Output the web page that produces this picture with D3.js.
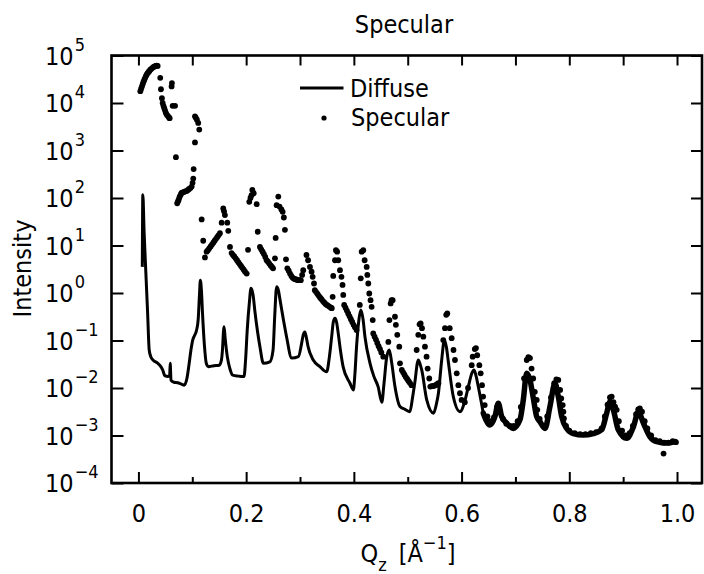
<!DOCTYPE html>
<html>
<head>
<meta charset="utf-8">
<script src="https://cdn.jsdelivr.net/npm/d3@7"></script>
<style>
  html, body { margin: 0; padding: 0; background: #fff; }
  svg { display: block; }
  text { font-family: "DejaVu Sans Condensed", "DejaVu Sans", sans-serif; fill: #000; }
</style>
</head>
<body>
<svg id="chart" width="704" height="574"></svg>
<script>
// ---------------- DATA ----------------
const chartTitle = "Specular";
const xTickValues = [0, 0.2, 0.4, 0.6, 0.8, 1.0];
const xTickLabels = ["0", "0.2", "0.4", "0.6", "0.8", "1.0"];
const xMinorTicks = [0.1, 0.3, 0.5, 0.7, 0.9];
const yTickExponents = [-4, -3, -2, -1, 0, 1, 2, 3, 4, 5];
const seriesNames = ["Diffuse", "Specular"];

// Diffuse scan: Qz and log10(Intensity)
const diffuseQ = [0.0072,0.0082,0.0105,0.0135,0.017,0.020,0.023,0.028,0.035,0.041,0.045,0.049,0.055,0.058,0.059,0.0605,0.066,0.073,0.080,0.085,0.090,0.094,0.0975,0.101,0.104,0.108,0.111,0.1135,0.115,0.117,0.119,0.1225,0.126,0.130,0.140,0.150,0.154,0.156,0.158,0.159,0.161,0.165,0.170,0.175,0.186,0.196,0.199,0.202,0.206,0.209,0.213,0.216,0.221,0.2256,0.232,0.244,0.250,0.253,0.2566,0.260,0.263,0.269,0.275,0.2845,0.297,0.303,0.306,0.309,0.312,0.315,0.3246,0.337,0.3495,0.3545,0.3588,0.362,0.365,0.368,0.371,0.375,0.380,0.3928,0.399,0.402,0.405,0.409,0.413,0.417,0.4206,0.430,0.437,0.445,0.452,0.456,0.461,0.4657,0.470,0.4763,0.4856,0.495,0.504,0.509,0.513,0.5196,0.523,0.526,0.5353,0.548,0.553,0.557,0.5631,0.568,0.572,0.575,0.5846,0.597,0.6066,0.613,0.619,0.623,0.627,0.631,0.6403,0.6527,0.662,0.6682,0.6744,0.6837,0.696,0.7084,0.7146,0.7208,0.727,0.733,0.7394,0.7456,0.7549,0.7641,0.7734,0.7796,0.7858,0.795,0.8074,0.826,0.8446,0.8601,0.8694,0.8756,0.8818,0.891,0.9066,0.919,0.9283,0.9376,0.9499,0.9623,0.981,0.9963];
const diffuseLogI = [0.55,2.07,1.3,0.5,-0.4,-1.2,-1.34,-1.42,-1.47,-1.54,-1.62,-1.74,-1.76,-1.74,-1.48,-1.84,-1.88,-1.89,-1.92,-1.94,-1.8,-1.5,-1.2,-0.98,-0.9,-0.78,-0.55,0.0,0.27,0.05,-0.43,-1.1,-1.48,-1.55,-1.53,-1.52,-1.42,-1.2,-0.8,-0.71,-0.95,-1.34,-1.6,-1.73,-1.75,-1.76,-1.4,-0.78,-0.2,0.10,-0.05,-0.36,-0.8,-1.13,-1.48,-1.45,-1.2,-0.5,0.13,0.05,-0.15,-0.55,-0.92,-1.37,-1.34,-1.06,-0.88,-0.82,-0.95,-1.13,-1.41,-1.55,-1.66,-1.35,-0.92,-0.6,-0.53,-0.62,-0.85,-1.2,-1.55,-1.9,-2.04,-1.7,-1.13,-0.6,-0.36,-0.55,-0.92,-1.48,-1.75,-1.97,-2.3,-1.9,-1.35,-1.2,-1.45,-1.97,-2.39,-2.45,-2.5,-2.2,-1.9,-1.41,-1.5,-1.62,-2.25,-2.53,-2.35,-2.11,-1.41,-0.99,-1.15,-1.41,-2.18,-2.5,-2.25,-1.95,-1.69,-1.62,-1.75,-1.97,-2.53,-2.78,-2.6,-2.32,-2.6,-2.74,-2.85,-2.67,-2.25,-1.69,-1.83,-2.2,-2.6,-2.71,-2.85,-2.39,-1.9,-2.18,-2.6,-2.85,-2.96,-2.99,-2.96,-2.88,-2.53,-2.29,-2.46,-2.88,-3.06,-2.82,-2.5,-2.74,-3.03,-3.13,-3.16,-3.13];

// Specular scan: Qz and log10(Intensity)
const specularQ = [0.0035,0.005,0.0065,0.008,0.0095,0.011,0.0125,0.014,0.0155,0.017,0.0185,0.020,0.022,0.024,0.026,0.028,0.030,0.032,0.034,0.0357,
0.0405,0.0418,0.0436,0.045,0.0465,0.048,0.0495,0.051,0.053,0.0553,0.057,0.058,
0.0616,0.0622,0.0635,0.068,0.0696,
0.072,0.0735,0.0746,0.076,0.077,0.079,0.080,0.0825,0.085,0.087,0.0895,0.092,0.094,0.0965,0.0988,0.1005,0.1018,0.1025,0.105,0.105,0.1065,0.1086,0.111,0.113,
0.1174,0.1203,0.1235,
0.1266,0.129,0.1315,0.134,0.1365,0.139,0.1415,0.144,0.1465,0.149,0.1513,
0.1545,0.1575,0.159,0.1606,0.165,0.1668,0.170,
0.173,0.1755,0.178,0.1805,0.183,0.1855,0.188,0.1905,0.193,0.1955,0.198,0.201,
0.2035,0.2058,0.208,0.210,0.2115,0.214,0.2195,0.2215,
0.2256,0.228,0.2305,0.233,0.2355,0.238,0.2405,0.243,0.2455,0.248,0.250,
0.2535,0.2548,0.2566,0.2597,0.262,0.2655,0.2678,0.270,0.272,0.274,
0.2765,0.279,0.2815,0.284,0.2865,0.289,0.2915,0.294,0.2965,0.299,0.3015,0.304,0.306,
0.312,0.315,0.3185,0.3215,0.3235,0.326,
0.3275,0.330,0.3325,0.335,0.3375,0.340,0.3425,0.345,0.3475,0.350,0.3525,0.355,0.3575,0.359,
0.3606,0.3617,0.365,0.3667,0.369,0.371,0.3742,0.377,0.379,0.3803,
0.382,0.3845,0.387,0.3895,0.392,0.3945,0.397,0.3995,0.402,0.405,
0.411,0.4128,0.4145,0.4175,0.420,0.4238,0.425,0.4268,0.4286,0.431,0.433,0.435,
0.436,0.4385,0.441,0.4435,0.446,0.4485,0.451,0.4546,
0.464,0.466,0.4683,0.470,0.472,0.4763,0.478,0.4806,0.4843,0.4856,
0.489,0.4915,0.494,0.4965,0.499,0.5015,0.504,0.507,
0.5166,0.5196,0.522,0.524,0.5265,0.529,0.532,0.535,0.537,0.540,
0.542,0.5445,0.547,0.5495,0.552,0.5545,0.557,
0.566,0.5692,0.5715,0.5735,0.578,0.5816,0.585,0.5877,0.591,0.594,0.597,0.600,
0.606,0.612,0.6188,0.6206,0.6245,0.6267,0.629,0.633,0.6355,0.638,0.640,0.643,
0.648,0.654,0.660,0.666,0.671,0.677,0.683,0.690,0.697,0.704,0.710,0.716,
0.721,0.724,0.727,0.730,0.733,0.736,0.7395,0.7406,0.745,0.752,0.759,0.766,0.772,0.776,
0.7796,0.783,0.785,0.7878,0.789,0.790,0.794,0.800,0.810,0.820,0.830,0.840,0.850,0.860,0.866,0.871,0.8755,
0.8787,0.882,0.885,0.888,0.892,0.898,0.905,0.912,0.918,0.924,0.928,0.931,0.935,0.940,0.945,0.952,0.960,0.968,0.975,0.976,0.984,0.992,0.998];
const specularLogI = [4.25,4.30,4.35,4.40,4.45,4.49,4.53,4.57,4.60,4.63,4.65,4.67,4.70,4.72,4.74,4.76,4.77,4.78,4.785,4.78,
4.53,4.29,4.10,4.00,3.94,3.89,3.84,3.79,3.75,3.72,3.69,3.68,
4.35,4.42,3.94,3.94,2.86,
1.89,1.93,1.96,2.01,2.04,2.08,2.11,2.12,2.13,2.14,2.15,2.17,2.19,2.21,2.24,2.32,2.41,2.61,3.17,3.72,3.69,3.65,3.58,3.44,
1.55,1.10,0.75,
0.87,0.90,0.94,0.98,1.02,1.06,1.10,1.14,1.18,1.22,1.26,
1.48,1.78,1.72,1.64,1.48,1.31,0.97,
0.84,0.80,0.77,0.73,0.69,0.65,0.61,0.57,0.53,0.49,0.45,0.41,
0.91,1.92,2.00,2.06,2.17,2.10,1.87,1.29,
0.97,0.92,0.87,0.82,0.76,0.69,0.66,0.62,0.58,0.55,0.52,
0.73,1.16,1.85,2.03,1.82,1.76,1.71,1.59,1.33,0.71,
0.52,0.47,0.41,0.36,0.32,0.30,0.29,0.28,0.27,0.27,0.27,0.38,0.48,
0.80,0.69,0.55,0.45,0.34,0.20,
0.06,0.02,-0.02,-0.06,-0.10,-0.13,-0.17,-0.20,-0.23,-0.25,-0.27,-0.29,-0.31,-0.32,
-0.08,0.36,0.69,0.90,0.87,0.69,0.48,0.34,0.17,-0.04,
-0.25,-0.31,-0.37,-0.43,-0.49,-0.55,-0.61,-0.67,-0.72,-0.78,
-0.25,0.31,0.87,0.90,0.69,0.55,0.38,0.20,-0.01,-0.15,-0.29,-0.57,
-0.85,-0.92,-0.98,-1.05,-1.12,-1.18,-1.25,-1.34,
-1.03,-0.57,-0.22,-0.15,-0.15,-0.50,-0.67,-0.88,-1.13,-1.48,
-1.62,-1.67,-1.72,-1.77,-1.81,-1.85,-1.89,-1.94,
-1.20,-0.88,-0.66,-0.64,-0.74,-0.92,-1.13,-1.34,-1.59,-1.80,
-1.97,-1.96,-1.96,-1.95,-1.94,-1.92,-1.90,
-0.99,-0.74,-0.46,-0.43,-0.74,-0.95,-1.20,-1.41,-1.69,-1.94,-2.11,-2.25,
-2.30,-2.00,-1.52,-1.34,-1.18,-1.16,-1.31,-1.52,-1.69,-1.94,-2.18,-2.36,
-2.60,-2.70,-2.62,-2.40,-2.50,-2.65,-2.75,-2.80,-2.80,-2.70,-2.40,-1.80,
-1.41,-1.35,-1.37,-1.59,-1.80,-2.08,-2.25,-2.46,-2.65,-2.80,-2.60,-2.20,-1.90,-1.82,
-1.83,-2.04,-2.22,-2.36,-2.50,-2.64,-2.80,-2.90,-2.95,-2.97,-2.97,-2.95,-2.93,-2.85,-2.60,-2.35,-2.20,
-2.18,-2.30,-2.39,-2.46,-2.70,-2.90,-3.00,-2.95,-2.80,-2.55,-2.45,-2.43,-2.50,-2.70,-2.85,-3.00,-3.10,-3.12,-3.38,-3.15,-3.15,-3.12,-3.14];

// ---------------- CHART ----------------
const svg = d3.select("#chart");
const pLeft = 111.5, pRight = 702, pTop = 55.5, pBottom = 483;

const x = d3.scaleLinear().domain([-0.05, 1.0464]).range([pLeft, pRight]);
const y = d3.scaleLog().domain([1e-4, 1e5]).range([pBottom, pTop]);

const diffuse = diffuseQ.map((q, i) => ({ q, v: Math.pow(10, diffuseLogI[i]) }));
const specular = specularQ.map((q, i) => ({ q, v: Math.pow(10, specularLogI[i]) }));

function styleAxis(g) {
  g.select(".domain").remove();
  g.selectAll(".tick line").attr("stroke", "#000").attr("stroke-width", 2);
}
// bottom major with labels
svg.append("g").attr("transform", `translate(0,${pBottom})`)
  .call(d3.axisBottom(x).tickValues(xTickValues).tickSize(-11).tickSizeOuter(0)
    .tickPadding(21).tickFormat((d, i) => xTickLabels[i]))
  .call(styleAxis)
  .call(g => g.selectAll(".tick text").attr("font-size", 25)
     .attr("font-family", '"DejaVu Sans Condensed", "DejaVu Sans", sans-serif').attr("fill", "#000"));
// bottom minor
svg.append("g").attr("transform", `translate(0,${pBottom})`)
  .call(d3.axisBottom(x).tickValues(xMinorTicks).tickSize(-6).tickSizeOuter(0).tickFormat(""))
  .call(styleAxis);
// top ticks
svg.append("g").attr("transform", `translate(0,${pTop})`)
  .call(d3.axisTop(x).tickValues(xTickValues.concat(xMinorTicks)).tickSize(-10).tickSizeOuter(0).tickFormat(""))
  .call(styleAxis);
// left ticks
const yTicks = yTickExponents.map(e => Math.pow(10, e));
svg.append("g").attr("transform", `translate(${pLeft},0)`)
  .call(d3.axisLeft(y).tickValues(yTicks).tickSize(-12).tickSizeOuter(0).tickFormat(""))
  .call(styleAxis);
// right ticks
svg.append("g").attr("transform", `translate(${pRight},0)`)
  .call(d3.axisRight(y).tickValues(yTicks).tickSize(-11).tickSizeOuter(0).tickFormat(""))
  .call(styleAxis);

// frame
svg.append("rect").attr("x", pLeft).attr("y", pTop)
  .attr("width", pRight - pLeft).attr("height", pBottom - pTop)
  .attr("fill", "none").attr("stroke", "#000").attr("stroke-width", 2.6);

// y tick labels 10^n
const yl = svg.append("g");
yTickExponents.forEach(e => {
  const t = yl.append("text").attr("x", 45).attr("y", y(Math.pow(10, e)) + 9).attr("font-size", 25);
  t.append("tspan").text("10");
  t.append("tspan").attr("font-size", 18).attr("dy", -14).attr("dx", 1)
    .text(e < 0 ? "\u2212" + Math.abs(e) : String(e));
});

// title
svg.append("text").attr("x", 404).attr("y", 33).attr("text-anchor", "middle")
  .attr("font-size", 25).text(chartTitle);

// y axis title
svg.append("text").attr("transform", "translate(31,268.5) rotate(-90)")
  .attr("text-anchor", "middle").attr("font-size", 25).text("Intensity");

// x axis title  Q_z [Å^-1]
const xt = svg.append("text").attr("x", 408).attr("y", 562).attr("text-anchor", "middle").attr("font-size", 25);
xt.append("tspan").text("Q");
xt.append("tspan").attr("font-size", 18).attr("dy", 9).text("z");
xt.append("tspan").attr("dy", -9).attr("dx", 12).text("[\u00C5");
xt.append("tspan").attr("font-size", 18).attr("dy", -13).text("\u22121");
xt.append("tspan").attr("dy", 13).text("]");

// Diffuse line
const line = d3.line().x(d => x(d.q)).y(d => y(d.v)).curve(d3.curveMonotoneX);
const tailStart = 0.64;
svg.append("path").datum(diffuse.filter(d => d.q <= tailStart + 0.001))
  .attr("d", line).attr("fill", "none").attr("stroke", "#000")
  .attr("stroke-width", 3).attr("stroke-linejoin", "round");
svg.append("path").datum(diffuse.filter(d => d.q >= tailStart))
  .attr("d", line).attr("fill", "none").attr("stroke", "#000")
  .attr("stroke-width", 5.5).attr("stroke-linejoin", "round").attr("stroke-linecap", "round");

// Specular dots
svg.append("g").selectAll("circle").data(specular).join("circle")
  .attr("cx", d => x(d.q)).attr("cy", d => y(d.v)).attr("r", 2.9).attr("fill", "#000");

// Legend
svg.append("line").attr("x1", 300).attr("x2", 343.5).attr("y1", 88).attr("y2", 88)
  .attr("stroke", "#000").attr("stroke-width", 2.8);
svg.append("text").attr("x", 350).attr("y", 97).attr("font-size", 25).text(seriesNames[0]);
svg.append("circle").attr("cx", 324).attr("cy", 118).attr("r", 2.6).attr("fill", "#000");
svg.append("text").attr("x", 351).attr("y", 126).attr("font-size", 25).text(seriesNames[1]);
</script>
</body>
</html>
